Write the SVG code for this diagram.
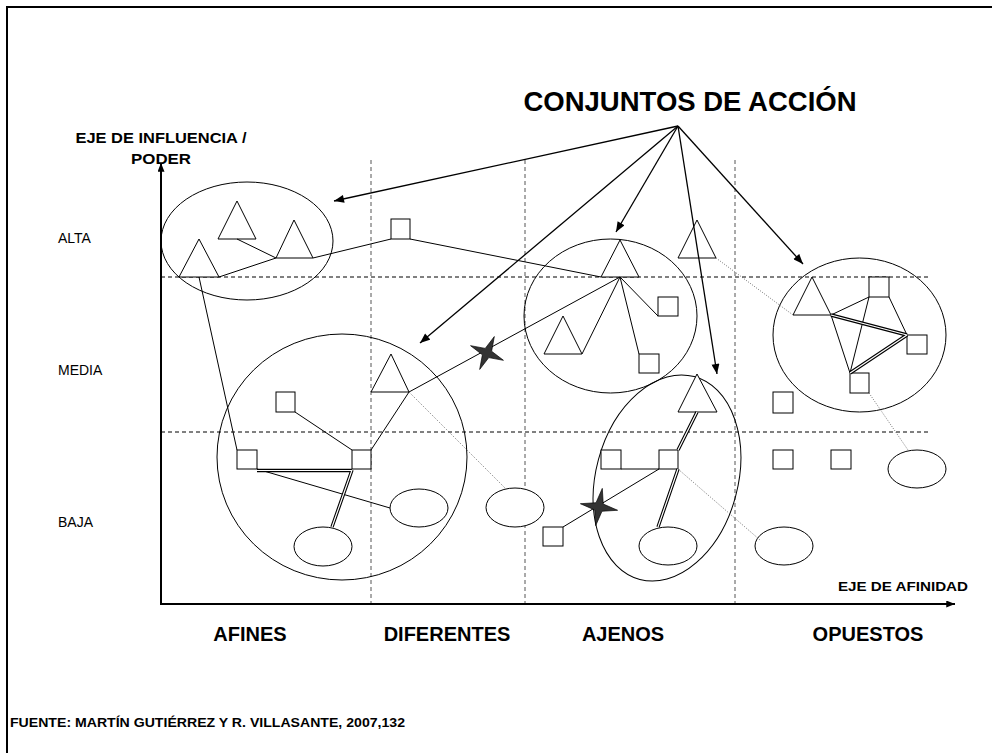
<svg xmlns="http://www.w3.org/2000/svg" width="992" height="753" viewBox="0 0 992 753">
<defs>
<style>
.s{fill:#fff;stroke:#000;stroke-width:1}
.o{fill:none;stroke:#000;stroke-width:1}
.ln{fill:none;stroke:#000;stroke-width:1}
.dbl{fill:none;stroke:#000;stroke-width:3.4}
.dbw{fill:none;stroke:#fff;stroke-width:1.2}
.dot{fill:none;stroke:#555;stroke-width:0.8;stroke-dasharray:1 1.5}
.dh{fill:none;stroke:#000;stroke-width:1;stroke-dasharray:4 3}
.dv{fill:none;stroke:#555;stroke-width:1;stroke-dasharray:4 3}
.ar{fill:none;stroke:#000;stroke-width:1.3;marker-end:url(#ah)}
.ax{fill:none;stroke:#000;stroke-width:2;marker-end:url(#ah2)}
.t{font-family:"Liberation Sans",Arial,sans-serif;fill:#000}
.b{font-weight:bold}
.star{fill:#333;stroke:#000;stroke-width:0.6}
</style>
<marker id="ah" viewBox="0 0 10 8" refX="10" refY="4" markerWidth="11" markerHeight="8" markerUnits="userSpaceOnUse" orient="auto"><path d="M0,0 L10,4 L0,8 Z" fill="#000"/></marker>
<marker id="ah2" viewBox="0 0 10 8" refX="10" refY="4" markerWidth="9" markerHeight="7" markerUnits="userSpaceOnUse" orient="auto"><path d="M0,0 L10,4 L0,8 Z" fill="#000"/></marker>
<path id="st" d="M-18,0 L-3.5,-3.5 L0,-18 L3.5,-3.5 L18,0 L3.5,3.5 L0,18 L-3.5,3.5 Z"/>
</defs>
<rect width="992" height="753" fill="#fff"/>
<path d="M7,753 V7 H992" fill="none" stroke="#000" stroke-width="2"/>

<g id="grid">
<line class="dv" x1="371" y1="160" x2="371" y2="604"/>
<line class="dv" x1="525" y1="160" x2="525" y2="604"/>
<line class="dv" x1="735" y1="160" x2="735" y2="604"/>
<line class="dh" x1="161" y1="277" x2="930" y2="277"/>
<line class="dh" x1="161" y1="432" x2="930" y2="432"/>
</g>

<g id="axes">
<line class="ax" x1="161" y1="604" x2="161" y2="163"/>
<line class="ax" x1="160" y1="604" x2="955" y2="604"/>
</g>

<g id="labels" class="t">
<text x="690" y="111" font-size="27.5" class="b" text-anchor="middle">CONJUNTOS DE ACCIÓN</text>
<text x="161" y="143" font-size="15" class="b" text-anchor="middle" textLength="171" lengthAdjust="spacingAndGlyphs">EJE DE INFLUENCIA /</text>
<text x="161" y="164" font-size="15" class="b" text-anchor="middle" textLength="60" lengthAdjust="spacingAndGlyphs">PODER</text>
<text x="58" y="243" font-size="14">ALTA</text>
<text x="58" y="375" font-size="14">MEDIA</text>
<text x="58" y="527" font-size="14">BAJA</text>
<text x="838" y="591" font-size="13" class="b" textLength="130" lengthAdjust="spacingAndGlyphs">EJE DE AFINIDAD</text>
<text x="250" y="641" font-size="20" class="b" text-anchor="middle">AFINES</text>
<text x="447" y="641" font-size="20" class="b" text-anchor="middle">DIFERENTES</text>
<text x="623" y="641" font-size="20" class="b" text-anchor="middle">AJENOS</text>
<text x="868" y="641" font-size="20" class="b" text-anchor="middle">OPUESTOS</text>
<text x="10" y="727" font-size="13" class="b" textLength="395" lengthAdjust="spacingAndGlyphs">FUENTE: MARTÍN GUTIÉRREZ Y R. VILLASANTE, 2007,132</text>
</g>

<g id="circ-afines-alta"><ellipse class="o" cx="247" cy="241" rx="86" ry="59"/></g>
<g id="tri-a1"><polygon class="s" points="237,201 218,239 256,239"/></g>
<g id="tri-a2"><polygon class="s" points="294,220 276,258 313,258"/></g>
<g id="tri-a3"><polygon class="s" points="199,239 179,277 219,277"/></g>
<g id="sq-dif-alta"><rect class="s" x="391" y="219" width="19" height="20"/></g>
<g id="circ-ajenos-alta"><ellipse class="o" cx="610.5" cy="316" rx="86.5" ry="77"/></g>
<g id="tri-d"><polygon class="s" points="620,240 601,277 639,277"/></g>
<g id="sq-f"><rect class="s" x="658" y="297" width="20" height="19"/></g>
<g id="sq-g"><rect class="s" x="639" y="354" width="20" height="19"/></g>
<g id="tri-h"><polygon class="s" points="563,316 544,354 582,354"/></g>
<g id="tri-z"><polygon class="s" points="697,220 678,258 716,258"/></g>
<g id="circ-opuestos"><ellipse class="o" cx="859.5" cy="335" rx="86.5" ry="77"/></g>
<g id="tri-aa"><polygon class="s" points="812,277 793,315 831,315"/></g>
<g id="sq-bb"><rect class="s" x="869" y="277" width="20" height="20"/></g>
<g id="sq-cc"><rect class="s" x="907" y="335" width="20" height="19"/></g>
<g id="sq-y"><rect class="s" x="850" y="373" width="19" height="20"/></g>
<g id="circ-afines-media"><ellipse class="o" cx="342" cy="457" rx="125" ry="123"/></g>
<g id="sq-j"><rect class="s" x="276" y="392" width="19" height="20"/></g>
<g id="sq-e"><rect class="s" x="237" y="450" width="20" height="19"/></g>
<g id="sq-k"><rect class="s" x="352" y="450" width="19" height="19"/></g>
<g id="tri-i"><polygon class="s" points="391,354 371,392 409,392"/></g>
<g id="ell-l"><ellipse class="s" cx="323" cy="546.5" rx="29" ry="19.5"/></g>
<g id="ell-m"><ellipse class="s" cx="419" cy="508" rx="29" ry="19"/></g>
<g id="ell-n"><ellipse class="s" cx="515" cy="507.5" rx="29" ry="19.5"/></g>
<g id="circ-ajenos-baja"><ellipse class="o" cx="667" cy="478" rx="71" ry="105" transform="rotate(15 667 478)"/></g>
<g id="tri-o"><polygon class="s" points="697,374 678,412 717,412"/></g>
<g id="sq-p"><rect class="s" x="601" y="450" width="20" height="19"/></g>
<g id="sq-q"><rect class="s" x="659" y="450" width="19" height="19"/></g>
<g id="ell-r"><ellipse class="s" cx="668" cy="546" rx="29" ry="19"/></g>
<g id="sq-s"><rect class="s" x="543" y="527" width="20" height="19"/></g>
<g id="ell-t"><ellipse class="s" cx="784" cy="546" rx="29" ry="19"/></g>
<g id="sq-u"><rect class="s" x="773" y="392" width="20" height="21"/></g>
<g id="sq-v"><rect class="s" x="773" y="450" width="20" height="19"/></g>
<g id="sq-w"><rect class="s" x="831" y="450" width="20" height="19"/></g>
<g id="ell-x"><ellipse class="s" cx="917" cy="469" rx="29" ry="19"/></g>

<g id="connectors">
<line class="ln" x1="237" y1="239" x2="276" y2="258"/>
<line class="ln" x1="219" y1="277" x2="276" y2="258"/>
<line class="ln" x1="313" y1="258" x2="391" y2="239"/>
<line class="ln" x1="410" y1="239" x2="601" y2="277"/>
<line class="ln" x1="199" y1="277" x2="237" y2="450"/>
<line class="ln" x1="620" y1="277" x2="658" y2="316"/>
<line class="ln" x1="620" y1="277" x2="639" y2="354"/>
<line class="ln" x1="620" y1="277" x2="582" y2="354"/>
<line class="ln" x1="620" y1="277" x2="409" y2="392"/>
<line class="ln" x1="295" y1="412" x2="352" y2="450"/>
<line class="ln" x1="371" y1="450" x2="409" y2="392"/>
<line class="ln" x1="257" y1="469" x2="390" y2="508"/>
<line class="ln" x1="621" y1="469" x2="659" y2="469"/>
<line class="ln" x1="659" y1="469" x2="563" y2="527"/>
<line class="ln" x1="831" y1="315" x2="869" y2="297"/>
<line class="ln" x1="831" y1="315" x2="850" y2="373"/>
<line class="ln" x1="869" y1="297" x2="850" y2="373"/>
<line class="ln" x1="889" y1="297" x2="907" y2="335"/>
<path class="dbl" d="M257,470.5 H352 M352,470 L332,527 M697,412 L678,450 M678,469 L658,527 M831,315 L907,335 M850,373 L907,335"/>
<path class="dbw" d="M257,470.5 H352 M352,470 L332,527 M697,412 L678,450 M678,469 L658,527 M831,315 L907,335 M850,373 L907,335"/>
<line class="dot" x1="409" y1="392" x2="505" y2="488"/>
<line class="dot" x1="678" y1="469" x2="760" y2="540"/>
<line class="dot" x1="716" y1="258" x2="793" y2="315"/>
<line class="dot" x1="869" y1="393" x2="908" y2="450"/>
<line class="ar" x1="678" y1="126" x2="334" y2="201"/>
<line class="ar" x1="678" y1="126" x2="420" y2="343"/>
<line class="ar" x1="678" y1="126" x2="616" y2="232"/>
<line class="ar" x1="678" y1="126" x2="717" y2="374"/>
<line class="ar" x1="678" y1="126" x2="803" y2="264"/>
</g>

<g id="star-1"><use href="#st" class="star" transform="translate(487,353) rotate(24)"/></g>
<g id="star-2"><use href="#st" class="star" transform="translate(599,507) rotate(10) scale(1.05)"/></g>
</svg>
